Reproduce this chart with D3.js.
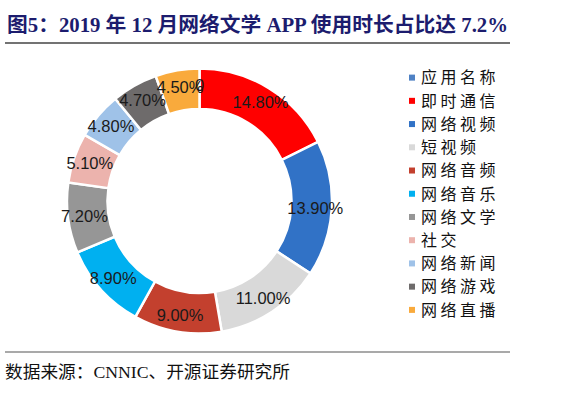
<!DOCTYPE html>
<html><head><meta charset="utf-8">
<script src="https://cdn.jsdelivr.net/npm/d3@7"></script>
<style>body{margin:0;background:#fff;}svg{display:block;}</style>
</head><body>
<script>
const categories = ["应用名称","即时通信","网络视频","短视频","网络音频","网络音乐","网络文学","社交","网络新闻","网络游戏","网络直播"];
const values = [0,14.8,13.9,11.0,9.0,8.9,7.2,5.1,4.8,4.7,4.5];
const labels = ["0","14.80%","13.90%","11.00%","9.00%","8.90%","7.20%","5.10%","4.80%","4.70%","4.50%"];
const colors = ["#4f81c4","#ff0000","#3172c6","#d9d9d9","#c3402e","#00b0f0","#969696","#ecb3ad","#9fc2e8","#6e6b6b","#f9aa3c"];
const title = "图5：2019 年 12 月网络文学 APP 使用时长占比达 7.2%";
const source = "数据来源：CNNIC、开源证券研究所";

const W=581,H=394;
const svg=d3.select("body").append("svg").attr("width",W).attr("height",H);

svg.append("text").attr("x",7).attr("y",32)
  .attr("font-family","'Liberation Serif','Noto Sans CJK SC',serif")
  .attr("font-weight","bold").attr("font-size",20).attr("fill","#1c1c6e")
  .attr("textLength",501).attr("lengthAdjust","spacingAndGlyphs")
  .text(title);
svg.append("line").attr("x1",5).attr("x2",510).attr("y1",43).attr("y2",43)
  .attr("stroke","#444").attr("stroke-width",1.5);
svg.append("line").attr("x1",5).attr("x2",510).attr("y1",352).attr("y2",352)
  .attr("stroke","#555").attr("stroke-width",1.2);
svg.append("text").attr("x",5).attr("y",378)
  .attr("font-family","'Liberation Serif','Noto Sans CJK SC',serif")
  .attr("font-size",17).attr("fill","#111")
  .attr("textLength",285).attr("lengthAdjust","spacingAndGlyphs")
  .text(source);

const cx=199.5, cy=201, rO=132.5, rI=92;
const data=categories.map((c,i)=>({c,v:values[i],l:labels[i],col:colors[i]}));
const pie=d3.pie().sort(null).value(d=>d.v);
const arcs=pie(data);
const arc=d3.arc().innerRadius(rI).outerRadius(rO);
const g=svg.append("g").attr("transform",`translate(${cx},${cy})`);
g.selectAll("path").data(arcs.filter(a=>a.data.v>0)).join("path")
  .attr("d",arc).attr("fill",d=>d.data.col)
  .attr("stroke","#fff").attr("stroke-width",2.5);
const lab=d3.arc().innerRadius(116).outerRadius(116);
g.selectAll("text.lbl").data(arcs).join("text").attr("class","lbl")
  .attr("transform",d=>{const [x,y]=lab.centroid(d);return `translate(${x},${y})`;})
  .attr("text-anchor","middle").attr("dy","0.36em")
  .attr("font-family","'Liberation Sans',Arial,sans-serif").attr("font-size",16.5)
  .attr("fill","#1a1a1a").text(d=>d.data.l);

const leg=svg.append("g");
const ly=d3.scaleBand().domain(categories).range([66,321.5]);
categories.forEach((c,i)=>{
  const y=ly(c)+ly.bandwidth()/2;
  leg.append("rect").attr("x",409).attr("y",y-3).attr("width",6).attr("height",6).attr("fill",colors[i]);
  leg.append("text").attr("x",421).attr("y",y).attr("dy","0.36em")
    .attr("font-family","'Noto Sans CJK SC',sans-serif").attr("font-size",16)
    .attr("letter-spacing",3.5).attr("fill","#111").text(c);
});
</script>
</body></html>
